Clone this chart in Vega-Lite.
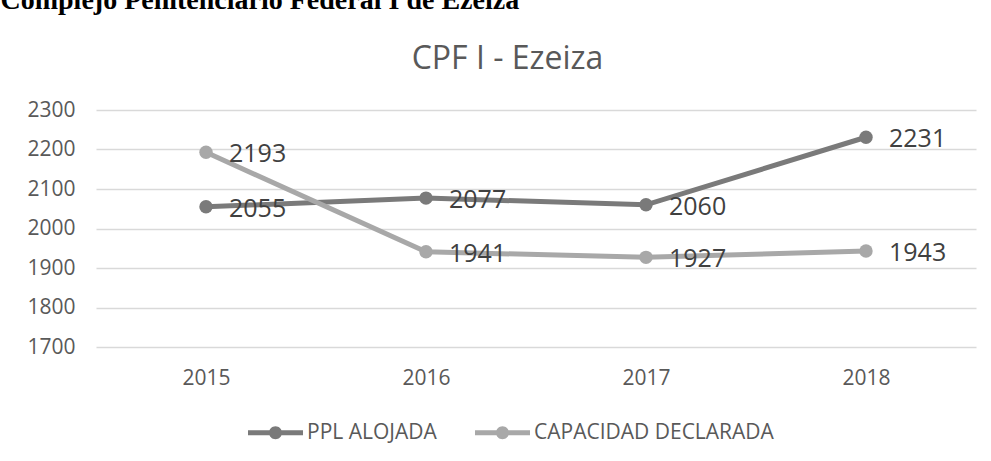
{
  "$schema": "https://vega.github.io/schema/vega-lite/v6.json",
  "width": 880,
  "height": 237,
  "autosize": {"type": "none"},
  "padding": {"left": 96, "top": 110, "right": 15, "bottom": 114},
  "background": "white",
  "data": {
    "values": [
      {"year": "2015", "serie": "PPL ALOJADA", "value": 2055},
      {"year": "2016", "serie": "PPL ALOJADA", "value": 2077},
      {"year": "2017", "serie": "PPL ALOJADA", "value": 2060},
      {"year": "2018", "serie": "PPL ALOJADA", "value": 2231},
      {"year": "2015", "serie": "CAPACIDAD DECLARADA", "value": 2193},
      {"year": "2016", "serie": "CAPACIDAD DECLARADA", "value": 1941},
      {"year": "2017", "serie": "CAPACIDAD DECLARADA", "value": 1927},
      {"year": "2018", "serie": "CAPACIDAD DECLARADA", "value": 1943}
    ]
  },
  "encoding": {
    "x": {
      "field": "year",
      "type": "ordinal",
      "scale": {"type": "point", "padding": 0.5},
      "axis": {
        "title": "Complejo Penitenciario Federal I de Ezeiza",
        "titleAngle": 0,
        "titleX": -96,
        "titleY": -339,
        "titleAlign": "left",
        "titleBaseline": "alphabetic",
        "titleFont": "Liberation Serif",
        "titleFontSize": 28,
        "titleFontWeight": "bold",
        "titleColor": "#000000",
        "labelAngle": 0,
        "labelFont": "Open Sans",
        "labelFontSize": 21,
        "labelColor": "#595959",
        "labelPadding": 20,
        "ticks": false,
        "domain": false,
        "grid": false
      }
    },
    "y": {
      "field": "value",
      "type": "quantitative",
      "scale": {"domain": [1700, 2300], "nice": false, "zero": false},
      "axis": {
        "title": "CPF I - Ezeiza",
        "titleAngle": 0,
        "titleX": 411,
        "titleY": -42,
        "titleAlign": "center",
        "titleBaseline": "alphabetic",
        "titleFont": "Open Sans",
        "titleFontSize": 32,
        "titleFontWeight": "normal",
        "titleColor": "#595959",
        "values": [1700, 1800, 1900, 2000, 2100, 2200, 2300],
        "format": "d",
        "labelFont": "Open Sans",
        "labelFontSize": 21,
        "labelColor": "#595959",
        "labelPadding": 21,
        "ticks": false,
        "domain": false,
        "grid": true,
        "gridColor": "#d9d9d9",
        "gridWidth": 1.5
      }
    },
    "color": {
      "field": "serie",
      "type": "nominal",
      "scale": {
        "domain": ["PPL ALOJADA", "CAPACIDAD DECLARADA"],
        "range": ["#7a7a7a", "#a8a8a8"]
      },
      "legend": {
        "title": null,
        "orient": "none",
        "direction": "horizontal",
        "legendX": 152,
        "legendY": 295,
        "symbolType": "M-1,-0.09L1,-0.09L1,0.09L-1,0.09Z M0.236,0 A0.236,0.236 0 1 1 -0.236,0 A0.236,0.236 0 1 1 0.236,0Z",
        "symbolSize": 3025,
        "symbolStrokeWidth": 0,
        "labelFont": "Open Sans",
        "labelFontSize": 21,
        "labelColor": "#595959",
        "labelLimit": 0,
        "labelOffset": 4,
        "columnPadding": 38,
        "encode": {
          "symbols": {
            "update": {
              "fill": {"scale": "color", "field": "value"},
              "strokeWidth": {"value": 0}
            }
          }
        }
      }
    }
  },
  "layer": [
    {
      "mark": {
        "type": "line",
        "strokeWidth": 5,
        "point": {"filled": true, "size": 180}
      }
    },
    {
      "mark": {
        "type": "text",
        "align": "left",
        "baseline": "middle",
        "dx": 23,
        "dy": 2,
        "font": "Open Sans",
        "fontSize": 25,
        "color": "#404040"
      },
      "encoding": {
        "text": {"field": "value", "type": "quantitative"},
        "color": {"value": "#404040"}
      }
    }
  ],
  "config": {
    "view": {"stroke": null}
  }
}
